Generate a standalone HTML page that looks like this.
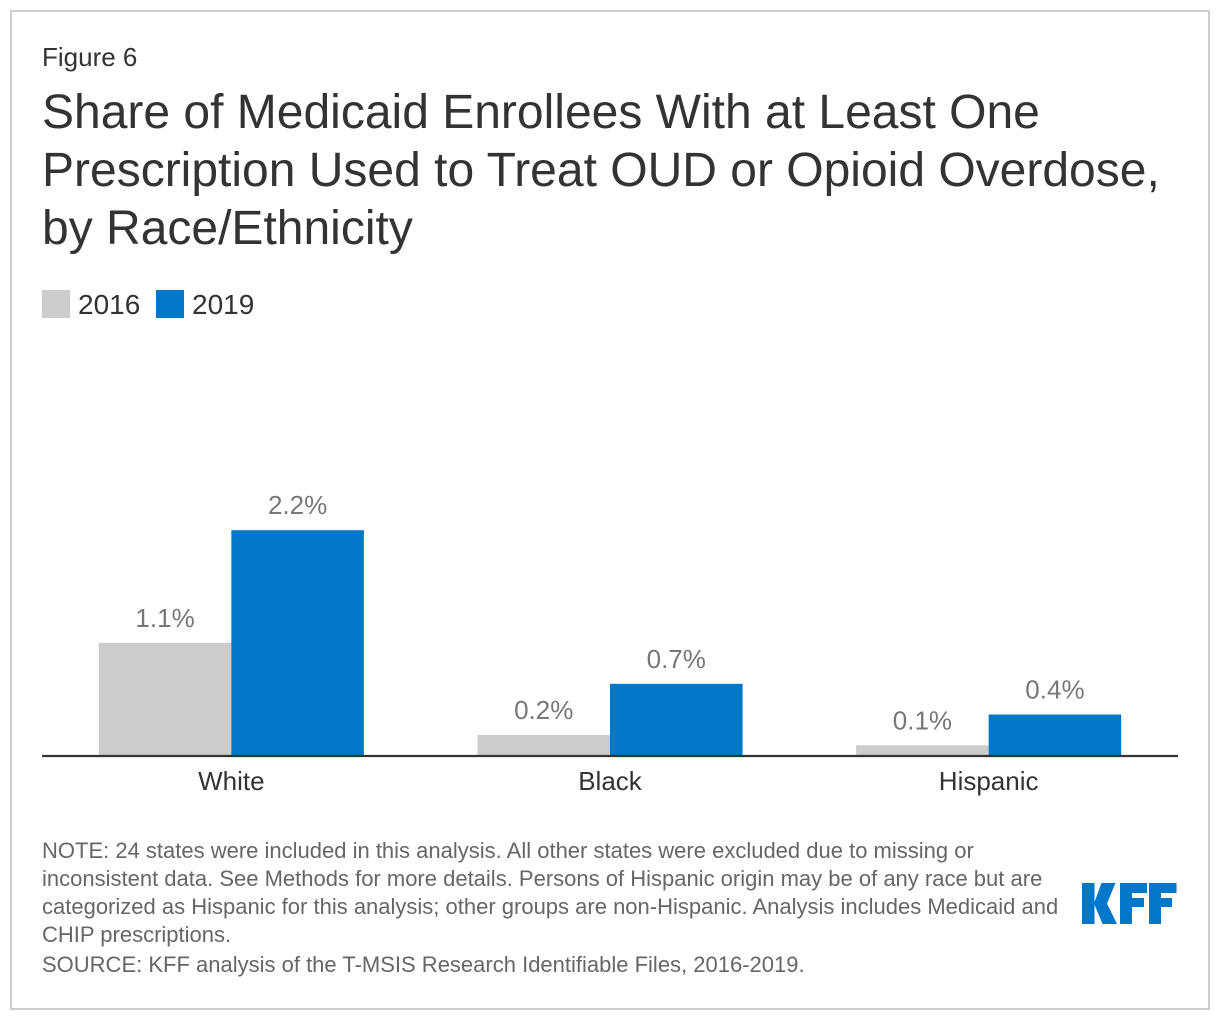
<!DOCTYPE html>
<html lang="en">
<head>
<meta charset="utf-8">
<title>Share of Medicaid Enrollees With at Least One Prescription Used to Treat OUD or Opioid Overdose</title>
<style>
html,body{margin:0;padding:0;background:#fff;}
#stage{position:relative;width:1220px;height:1020px;overflow:hidden;background:#fff;font-family:"Liberation Sans",Arial,sans-serif;}
#frame{position:absolute;left:10px;top:10px;width:1196px;height:996px;border:2px solid #ccc;}
.t{position:absolute;white-space:nowrap;margin:0;}
#figure-label{left:42px;top:42px;font-size:26px;line-height:30px;color:#333;}
#title{left:42px;top:84px;font-size:48px;line-height:58px;color:#333;font-weight:normal;}
.note{left:42px;font-size:22px;line-height:28px;color:#666;}
svg{position:absolute;left:0;top:0;}
svg text{font-family:"Liberation Sans",Arial,sans-serif;}
</style>
</head>
<body>
<div id="stage">
  <div id="frame"></div>
  <p id="figure-label" class="t">Figure 6</p>
  <h1 id="title" class="t">Share of Medicaid Enrollees With at Least One<br>Prescription Used to Treat OUD or Opioid Overdose,<br>by Race/Ethnicity</h1>
  <svg id="chart" width="1220" height="1020" viewBox="0 0 1220 1020"></svg>
  <p class="t note" style="top:837px">NOTE: 24 states were included in this analysis. All other states were excluded due to missing or</p>
  <p class="t note" style="top:865px">inconsistent data. See Methods for more details. Persons of Hispanic origin may be of any race but are</p>
  <p class="t note" style="top:893px">categorized as Hispanic for this analysis; other groups are non-Hispanic. Analysis includes Medicaid and</p>
  <p class="t note" style="top:921px">CHIP prescriptions.</p>
  <p class="t note" style="top:951px">SOURCE: KFF analysis of the T-MSIS Research Identifiable Files, 2016-2019.</p>
  <svg width="1220" height="1020" viewBox="0 0 1220 1020" aria-label="KFF">
    <g fill="#0077c8">
      <path d="M1082 883H1094.5V924H1082Z"/>
      <path d="M1101.5 883H1115.5L1107 903.5L1117 924H1102.5L1094 903.5Z"/>
      <path d="M1120 883H1147V893H1132V898H1144V907H1132V924H1120Z"/>
      <path d="M1149 883H1176.5V893H1161V898H1172V907H1161V924H1149Z"/>
    </g>
  </svg>
</div>
<script>
const categories = ["White", "Black", "Hispanic"];
const seriesNames = ["2016", "2019"];
const values2016 = [1.1, 0.2, 0.1];
const values2019 = [2.2, 0.7, 0.4];
const valueLabels2016 = ["1.1%", "0.2%", "0.1%"];
const valueLabels2019 = ["2.2%", "0.7%", "0.4%"];

const svg = document.getElementById('chart');
const NS = 'http://www.w3.org/2000/svg';
const plotLeft = 42, plotRight = 1178, baseline = 755.5, unitHeight = 102.4;
const bandWidth = (plotRight - plotLeft) / categories.length;
const barWidth = bandWidth * 0.35;
const seriesColors = ['#cccccc', '#0077c8'];
const seriesValues = [values2016, values2019];
const seriesLabels = [valueLabels2016, valueLabels2019];

function xCenter(i) { return plotLeft + bandWidth * (i + 0.5); }
function yScale(v) { return baseline - v * unitHeight; }
function makeEl(tag, attrs) {
  const el = document.createElementNS(NS, tag);
  Object.keys(attrs).forEach(function (k) { el.setAttribute(k, attrs[k]); });
  return el;
}

seriesValues.forEach(function (vals, s) {
  vals.forEach(function (v, i) {
    const x = xCenter(i) + (s - 1) * barWidth;
    const bar = makeEl('rect', { x: x, y: yScale(v), width: barWidth, height: baseline - yScale(v), fill: seriesColors[s] });
    
    
    svg.appendChild(bar);
    const label = makeEl('text', { x: x + barWidth / 2, y: yScale(v) - 16, 'text-anchor': 'middle', 'font-size': 26, fill: '#777' });
    label.textContent = seriesLabels[s][i];
    
    
    svg.appendChild(label);
  });
});

const axis = makeEl('line', { x1: plotLeft, x2: plotRight, y1: 756, y2: 756, stroke: '#333', 'stroke-width': 2.2 });


svg.appendChild(axis);

categories.forEach(function (c, i) {
  const t = makeEl('text', { x: xCenter(i), y: 790, 'text-anchor': 'middle', 'font-size': 26, fill: '#333' });
  t.textContent = c;
  
  
  svg.appendChild(t);
});

const legendSwatchX = [42, 156];
seriesNames.forEach(function (n, s) {
  const swatch = makeEl('rect', { x: legendSwatchX[s], y: 290, width: 28, height: 28, fill: seriesColors[s] });
  
  
  svg.appendChild(swatch);
  const t = makeEl('text', { x: legendSwatchX[s] + 36, y: 314, 'font-size': 28, fill: '#333' });
  t.textContent = n;
  
  
  svg.appendChild(t);
});
</script>
</body>
</html>
